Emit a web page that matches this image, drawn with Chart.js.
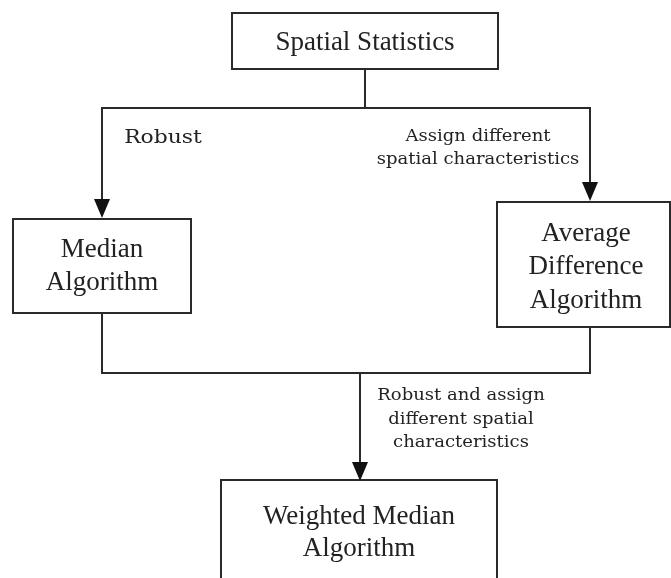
<!DOCTYPE html>
<html>
<head>
<meta charset="utf-8">
<script src="https://cdn.jsdelivr.net/npm/chart.js@4.4.0/dist/chart.umd.min.js"></script>
<style>
  body { margin: 0; background: #fff; }
  #wrap { width: 671px; height: 578px; }
</style>
</head>
<body>
<div id="wrap"><canvas id="flow" width="671" height="578"></canvas></div>
<script>
// boxes: [x1, y1, x2, y2] in diagram units, with their text lines
var boxNames = ["Spatial Statistics", "Median Algorithm", "Average Difference Algorithm", "Weighted Median Algorithm"];
var boxRects = [[232, 13, 498, 69], [13, 219, 191, 313], [497, 202, 670, 327], [221, 480, 497, 600]];
var boxLines = [["Spatial Statistics"], ["Median", "Algorithm"], ["Average", "Difference", "Algorithm"], ["Weighted Median", "Algorithm"]];
var boxLineX = [365, 102, 586, 359];
var boxLineY = [[43], [250, 283], [234, 267, 301], [517, 549]];

// connector polylines
var edges = [
  [[365, 69], [365, 108]],
  [[102, 108], [590, 108]],
  [[102, 108], [102, 200]],
  [[590, 108], [590, 184]],
  [[102, 313], [102, 373]],
  [[590, 327], [590, 373]],
  [[102, 373], [590, 373]],
  [[360, 373], [360, 463]]
];

// arrow tips
var arrowTips = [[102, 218], [590, 201], [360, 481]];

// edge labels
var edgeLabels = [["Robust"], ["Assign different", "spatial characteristics"], ["Robust and assign", "different spatial", "characteristics"]];
var edgeLabelX = [163, 478, 461];
var edgeLabelY = [[138], [137, 160], [396, 420, 443]];
var edgeLabelSize = [19, 17, 17];
var edgeLabelStretch = [1.15, 1.06, 1.06];

var lineDatasets = edges.map(function(e) {
  return {
    type: "scatter",
    data: e.map(function(p){ return {x: p[0], y: p[1]}; }),
    showLine: true,
    borderColor: "#2a2a2a",
    borderWidth: 2,
    pointRadius: 0,
    borderCapStyle: "square"
  };
});

function stretchText(ctx, txt, x, y, sx) {
  ctx.save();
  ctx.translate(x, y);
  ctx.scale(sx, 1);
  ctx.fillText(txt, 0, 0);
  ctx.restore();
}

var flowPlugin = {
  id: "flowPlugin",
  afterDatasetsDraw: function(chart) {
    var ctx = chart.ctx;
    var xs = chart.scales.x, ys = chart.scales.y;
    ctx.save();
    // boxes
    for (var i = 0; i < boxRects.length; i++) {
      var r = boxRects[i];
      var x1 = xs.getPixelForValue(r[0]), y1 = ys.getPixelForValue(r[1]);
      var x2 = xs.getPixelForValue(r[2]), y2 = ys.getPixelForValue(r[3]);
      ctx.fillStyle = "#fff";
      ctx.fillRect(x1, y1, x2 - x1, y2 - y1);
      ctx.strokeStyle = "#2a2a2a";
      ctx.lineWidth = 2;
      ctx.strokeRect(x1, y1, x2 - x1, y2 - y1);
      ctx.fillStyle = "#222";
      ctx.font = "27px 'Liberation Serif'";
      ctx.textAlign = "center";
      ctx.textBaseline = "middle";
      var cx = xs.getPixelForValue(boxLineX[i]);
      for (var j = 0; j < boxLines[i].length; j++) {
        ctx.fillText(boxLines[i][j], cx, ys.getPixelForValue(boxLineY[i][j]));
      }
    }
    // arrow heads
    ctx.fillStyle = "#111";
    arrowTips.forEach(function(t) {
      var tx = xs.getPixelForValue(t[0]), ty = ys.getPixelForValue(t[1]);
      ctx.beginPath();
      ctx.moveTo(tx, ty);
      ctx.lineTo(tx - 8, ty - 19);
      ctx.lineTo(tx + 8, ty - 19);
      ctx.closePath();
      ctx.fill();
    });
    // edge labels
    ctx.fillStyle = "#222";
    ctx.textAlign = "center";
    ctx.textBaseline = "middle";
    for (var k = 0; k < edgeLabels.length; k++) {
      ctx.font = edgeLabelSize[k] + "px 'DejaVu Serif'";
      for (var m = 0; m < edgeLabels[k].length; m++) {
        stretchText(ctx, edgeLabels[k][m], xs.getPixelForValue(edgeLabelX[k]), ys.getPixelForValue(edgeLabelY[k][m]), edgeLabelStretch[k]);
      }
    }
    ctx.restore();
  }
};

var chart = new Chart(document.getElementById("flow"), {
  type: "scatter",
  data: { datasets: lineDatasets },
  options: {
    responsive: false,
    animation: false,
    layout: { padding: 0 },
    plugins: { legend: { display: false }, tooltip: { enabled: false } },
    scales: {
      x: { type: "linear", min: 0, max: 671, display: false },
      y: { type: "linear", min: 0, max: 578, reverse: true, display: false }
    }
  },
  plugins: [flowPlugin]
});
</script>
</body>
</html>
